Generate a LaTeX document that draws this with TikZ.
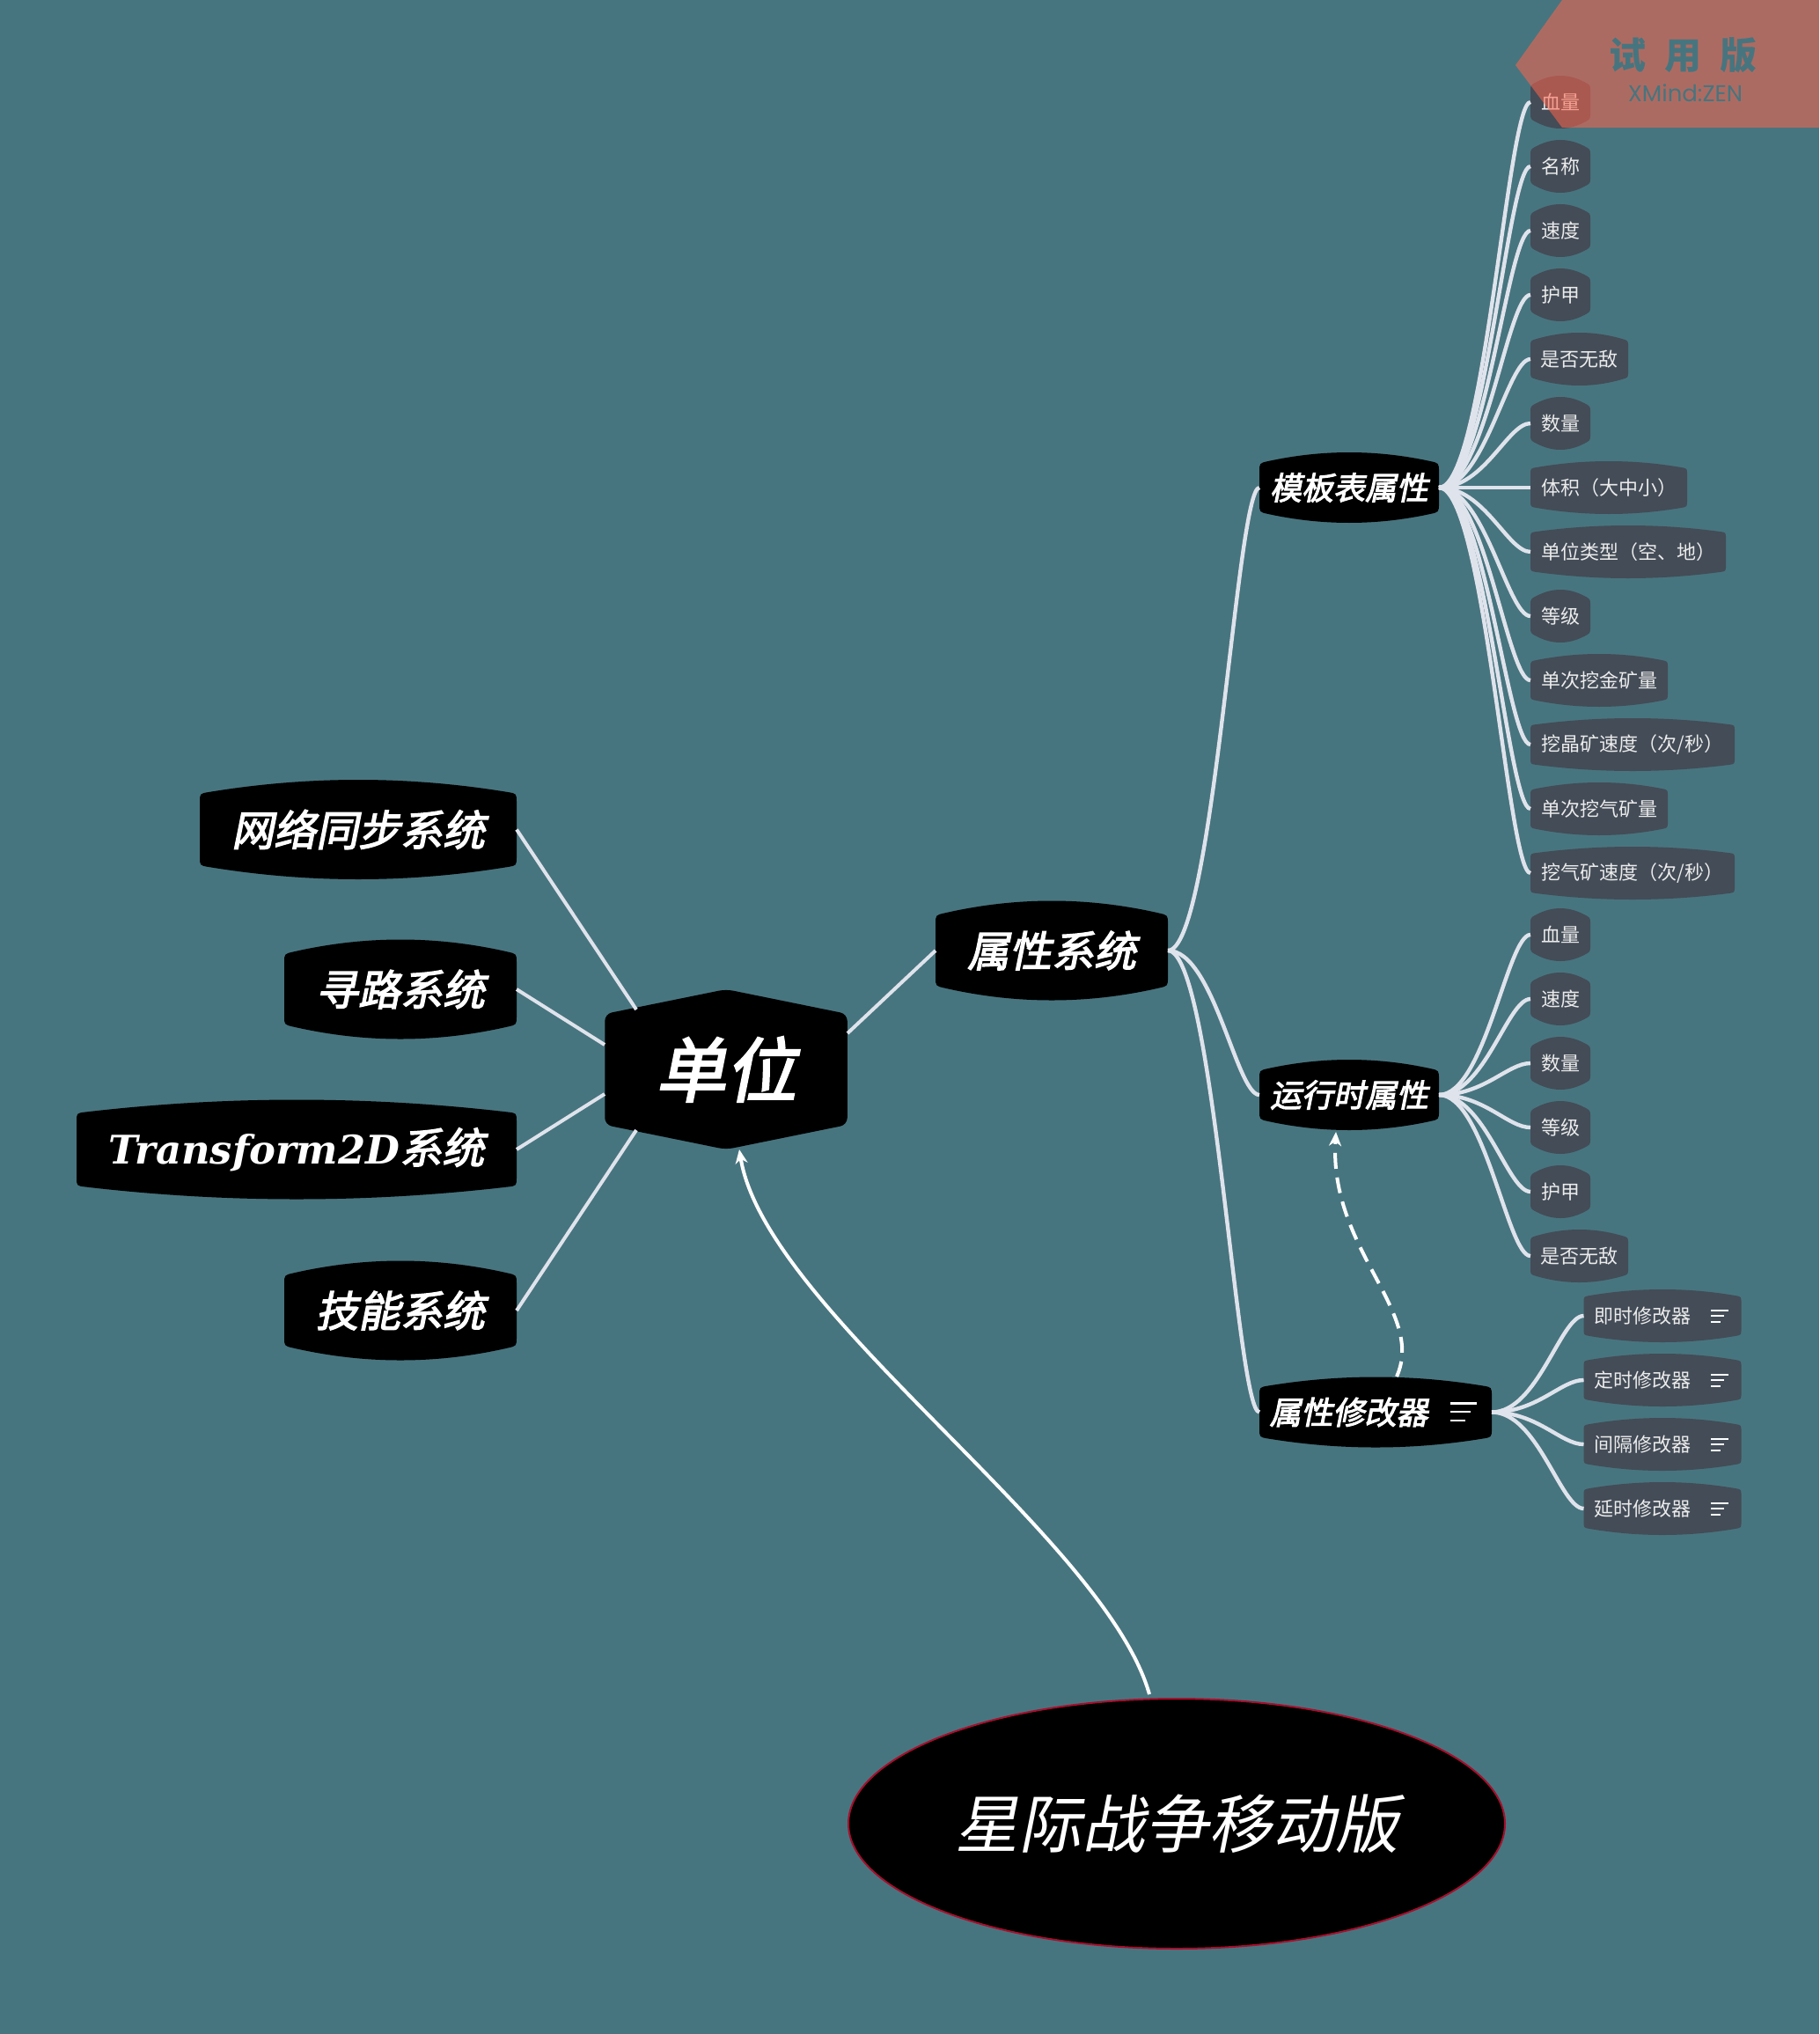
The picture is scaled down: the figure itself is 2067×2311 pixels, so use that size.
\documentclass[tikz,border=0pt]{standalone}
\usepackage{fontspec}
\usetikzlibrary{shapes.geometric, arrows.meta, positioning, calc}

\setmainfont{Noto Sans CJK SC}
\newfontfamily\slantfont[FakeSlant=0.2]{Noto Sans CJK SC}
\newfontfamily\heavyfont[FakeSlant=0.2, FakeBold=2.8]{Noto Sans CJK SC}
\newfontfamily\latinfont{DejaVu Serif}
\newfontfamily\markfont{Poppins}

\definecolor{pageteal}{HTML}{47757F}
\definecolor{leafgray}{HTML}{434C57}
\definecolor{linegray}{HTML}{DFE3EC}
\definecolor{rimred}{HTML}{A50F2D}
\definecolor{markred}{HTML}{FF644B}

\tikzset{
  barrel/.style n args={3}{inner sep=0pt, outer sep=0pt, text=white, path picture={
    \fill[#1] let \p1=(path picture bounding box.south west), \p2=(path picture bounding box.north east),
        \n1={2*#2*#3/(0.5*(\x2-\x1)-#3)} in
      (\x1,\y2-#2-\n1*1pt-#3) .. controls (\x1,\y2-#2-\n1*1pt) .. (\x1+#3,\y2-#2)
      .. controls ({\x1+#3+0.667*(0.5*(\x2-\x1)-#3)},\y2+#2/3) and ({\x2-#3-0.667*(0.5*(\x2-\x1)-#3)},\y2+#2/3) .. (\x2-#3,\y2-#2)
      .. controls (\x2,\y2-#2-\n1*1pt) .. (\x2,\y2-#2-\n1*1pt-#3)
      -- (\x2,\y1+#2+\n1*1pt+#3) .. controls (\x2,\y1+#2+\n1*1pt) .. (\x2-#3,\y1+#2)
      .. controls ({\x2-#3-0.667*(0.5*(\x2-\x1)-#3)},\y1-#2/3) and ({\x1+#3+0.667*(0.5*(\x2-\x1)-#3)},\y1-#2/3) .. (\x1+#3,\y1+#2)
      .. controls (\x1,\y1+#2+\n1*1pt) .. (\x1,\y1+#2+\n1*1pt+#3) -- cycle;}},
  hexbox/.style={inner sep=0pt, outer sep=0pt, text=white, path picture={
    \fill[black, rounded corners=4pt] let \p1=(path picture bounding box.south west), \p2=(path picture bounding box.north east) in
      ({.5*\x1+.5*\x2},\y2) -- (\x2,\y2-14pt) -- (\x2,\y1+14pt) -- ({.5*\x1+.5*\x2},\y1)
      -- (\x1,\y1+14pt) -- (\x1,\y2-14pt) -- cycle;}},
  mainbox/.style={barrel={black}{7pt}{5pt}, minimum height=56.5pt, font=\heavyfont\fontsize{24}{28}\selectfont},
  subbox/.style={barrel={black}{5pt}{5pt}, minimum height=40pt, font=\heavyfont\fontsize{18}{22}\selectfont},
  leaf/.style={barrel={leafgray}{3.5pt}{3.5pt}, minimum height=30pt, text=white!92!black, font=\fontsize{11}{13}\selectfont},
  nextleaf/.style={below=6.5pt of #1.south west, anchor=north west},
  trunk/.style={draw=linegray, line width=2pt},
  branchline/.style={draw=linegray, line width=2.2pt},
  relation/.style={draw=white, line width=2pt, -{Stealth[length=8pt, width=7pt, inset=2.5pt]}},
  menulines/.pic={
    \draw (0,-6.5) -- (20,-6.5);
    \draw (0,0) -- (15,0);
    \draw (0,6.5) -- (11,6.5);
  },
}

\newcommand{\branch}[2]{\draw[branchline] let \p1=(#1.east), \p2=(#2.west) in
  (\p1) .. controls ({.5*\x1+.5*\x2},\y1) and ({.25*\x1+.75*\x2},\y2) .. (\p2);}

\begin{document}
\begin{tikzpicture}[x=0.5pt, y=-0.5pt]
    \useasboundingbox (0,0) rectangle (2067,2311);
    \fill[pageteal] (0,0) rectangle (2067,2311);

    % Nodes
    \node (unit) [hexbox, minimum width=137.75pt, minimum height=91pt, font=\heavyfont\fontsize{40}{46}\selectfont] at (825,1215) {单位};
    \node (attrsys) [mainbox, minimum width=132pt] at (1195,1080) {属性系统};
    \node (netsync) [mainbox, minimum width=180pt] at (407,942.5) {网络同步系统};
    \node (pathfind) [mainbox, minimum width=132pt] at (455,1124) {寻路系统};
    \node (transform) [mainbox, minimum width=250pt] at (337,1306) {{\latinfont\bfseries\itshape\fontsize{22.4}{28}\selectfont Transform2D}系统};
    \node (skill) [mainbox, minimum width=132pt] at (455,1489) {技能系统};
    \node (game) [ellipse, draw=rimred, line width=1pt, fill=black, text=white, inner sep=0pt, outer sep=0pt, minimum width=373pt, minimum height=142pt, font=\slantfont\fontsize{36}{42}\selectfont] at (1337,2072) {星际战争移动版};

    \node (template) [subbox, minimum width=102pt] at (1533,554) {模板表属性};
    \node (runtime) [subbox, minimum width=102pt] at (1533,1244) {运行时属性};
    \node (modifier) [subbox, minimum width=132pt] at (1563,1604.5) {属性修改器\kern30.5pt};

    \node (thp) [leaf, minimum width=34pt, anchor=west] at (1739,116) {血量};
    \node (tname) [leaf, minimum width=34pt, nextleaf=thp] {名称};
    \node (tspeed) [leaf, minimum width=34pt, nextleaf=tname] {速度};
    \node (tarmor) [leaf, minimum width=34pt, nextleaf=tspeed] {护甲};
    \node (tinvin) [leaf, minimum width=55.5pt, nextleaf=tarmor] {是否无敌};
    \node (tcount) [leaf, minimum width=34pt, nextleaf=tinvin] {数量};
    \node (tvolume) [leaf, minimum width=89pt, nextleaf=tcount] {体积（大中小）};
    \node (ttype) [leaf, minimum width=111pt, nextleaf=tvolume] {单位类型（空、地）};
    \node (tlevel) [leaf, minimum width=34pt, nextleaf=ttype] {等级};
    \node (tgold) [leaf, minimum width=78pt, nextleaf=tlevel] {单次挖金矿量};
    \node (tcrystal) [leaf, minimum width=116pt, nextleaf=tgold] {挖晶矿速度（次/秒）};
    \node (tgas) [leaf, minimum width=78pt, nextleaf=tcrystal] {单次挖气矿量};
    \node (tgasrate) [leaf, minimum width=116pt, nextleaf=tgas] {挖气矿速度（次/秒）};

    \node (rhp) [leaf, minimum width=34pt, anchor=west] at (1739,1062) {血量};
    \node (rspeed) [leaf, minimum width=34pt, nextleaf=rhp] {速度};
    \node (rcount) [leaf, minimum width=34pt, nextleaf=rspeed] {数量};
    \node (rlevel) [leaf, minimum width=34pt, nextleaf=rcount] {等级};
    \node (rarmor) [leaf, minimum width=34pt, nextleaf=rlevel] {护甲};
    \node (rinvin) [leaf, minimum width=55.5pt, nextleaf=rarmor] {是否无敌};

    \node (minstant) [leaf, minimum width=89.5pt, anchor=west] at (1799.5,1495) {即时修改器\kern23pt};
    \node (mtimed) [leaf, minimum width=89.5pt, nextleaf=minstant] {定时修改器\kern23pt};
    \node (minterval) [leaf, minimum width=89.5pt, nextleaf=mtimed] {间隔修改器\kern23pt};
    \node (mdelay) [leaf, minimum width=89.5pt, nextleaf=minterval] {延时修改器\kern23pt};

    % Free ends
    \coordinate (unitNW) at (723,1147);
    \coordinate (unitW) at (687,1187);
    \coordinate (unitSW) at (687,1243);
    \coordinate (unitLow) at (723,1284);
    \coordinate (unitE) at (963,1174);
    \coordinate (unitTip) at (840,1306);
    \coordinate (gameTop) at (1306,1925);
    \coordinate (modTop) at (1587,1564);
    \coordinate (runTip) at (1518,1286);

    % Edges
    \draw[trunk] (netsync.east) -- (unitNW);
    \draw[trunk] (pathfind.east) -- (unitW);
    \draw[trunk] (transform.east) -- (unitSW);
    \draw[trunk] (skill.east) -- (unitLow);
    \draw[trunk] (attrsys.west) -- (unitE);

    \branch{attrsys}{template}
    \branch{attrsys}{runtime}
    \branch{attrsys}{modifier}

    \branch{template}{thp}
    \branch{template}{tname}
    \branch{template}{tspeed}
    \branch{template}{tarmor}
    \branch{template}{tinvin}
    \branch{template}{tcount}
    \branch{template}{tvolume}
    \branch{template}{ttype}
    \branch{template}{tlevel}
    \branch{template}{tgold}
    \branch{template}{tcrystal}
    \branch{template}{tgas}
    \branch{template}{tgasrate}

    \branch{runtime}{rhp}
    \branch{runtime}{rspeed}
    \branch{runtime}{rcount}
    \branch{runtime}{rlevel}
    \branch{runtime}{rarmor}
    \branch{runtime}{rinvin}

    \branch{modifier}{minstant}
    \branch{modifier}{mtimed}
    \branch{modifier}{minterval}
    \branch{modifier}{mdelay}

    \draw[relation] (gameTop) .. controls (1255,1745) and (870,1490) .. (unitTip);
    \draw[relation, dash pattern=on 9pt off 5pt] (modTop) .. controls (1620,1490) and (1510,1420) .. (runTip);

    % Menu marks
    \pic[draw=white, line width=1.25pt, scale=1.5] at (1648,1604) {menulines};
    \pic[draw=white, line width=1pt] at (1944,1495) {menulines};
    \pic[draw=white, line width=1pt] at (1944,1568) {menulines};
    \pic[draw=white, line width=1pt] at (1944,1641) {menulines};
    \pic[draw=white, line width=1pt] at (1944,1714) {menulines};

    % Trial banner
    \fill[markred, fill opacity=0.55] (1775,0) -- (2067,0) -- (2067,145) -- (1775,145) -- (1722,74) -- cycle;
    \node (marktitle) [text=pageteal, inner sep=0pt, font=\bfseries\fontsize{21}{25}\selectfont] at (1912,63) {试\hspace{10.5pt}用\hspace{10.5pt}版};
    \node (markname) [text=pageteal, inner sep=0pt, font=\markfont\fontsize{13}{15}\selectfont] at (1915,106) {XMind:ZEN};
\end{tikzpicture}
\end{document}
